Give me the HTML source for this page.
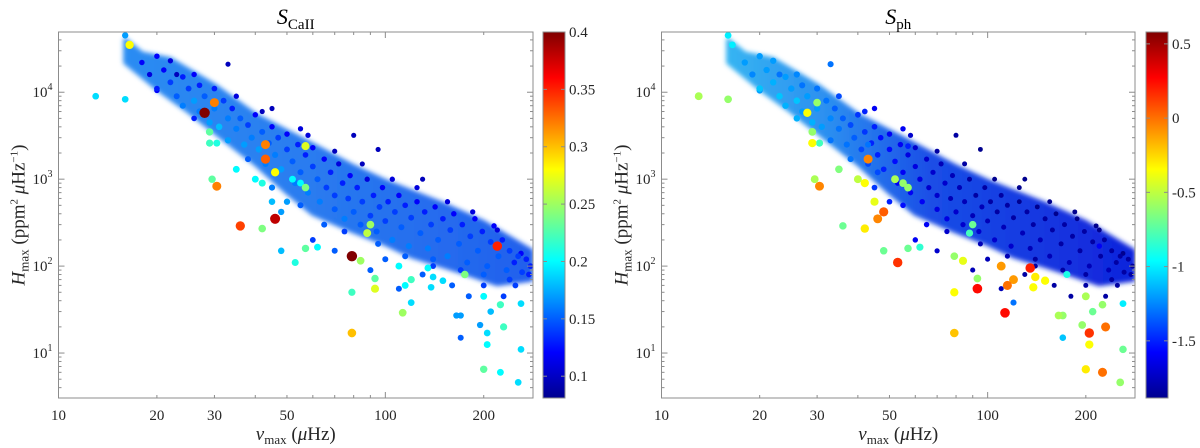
<!DOCTYPE html>
<html><head><meta charset="utf-8"><style>
html,body{margin:0;padding:0;background:#fff;}
svg{display:block;}
svg text{font-family:"Liberation Serif",serif;}
</style></head><body>
<svg id="fig" width="1200" height="448" viewBox="0 0 1200 448" xmlns="http://www.w3.org/2000/svg" font-family="Liberation Serif, serif">
<defs>
<linearGradient id="jet" x1="0" y1="1" x2="0" y2="0">
<stop offset="0" stop-color="#00008f"/><stop offset="0.125" stop-color="#0000ff"/><stop offset="0.375" stop-color="#00ffff"/><stop offset="0.625" stop-color="#ffff00"/><stop offset="0.875" stop-color="#ff0000"/><stop offset="1" stop-color="#800000"/>
</linearGradient>
<linearGradient id="cacloud" x1="0" y1="0" x2="1" y2="0">
<stop offset="0" stop-color="#2a8cf2"/><stop offset="0.4" stop-color="#2a7ef0"/><stop offset="1" stop-color="#2260ec"/>
</linearGradient>
<linearGradient id="phcloud" x1="0" y1="0" x2="1" y2="0">
<stop offset="0" stop-color="#36b4f2"/><stop offset="0.25" stop-color="#2c8ef0"/><stop offset="0.5" stop-color="#1a4ee6"/><stop offset="1" stop-color="#1024dc"/>
</linearGradient>
<filter id="soft" x="-5%" y="-5%" width="110%" height="110%"><feGaussianBlur stdDeviation="2.5"/></filter>
</defs>
</svg>
<script>
// ---- data (nu_max [uHz], H_max [ppm^2/uHz], S_CaII, S_ph) ----
const nuVals=[16.5,13,16,28,30,29,29,30.5,29.5,30.5,36,42,46,43,43,46,57,57,57,53,62,79,84,79,79,88,90,93,93,113,110,115,120,135,140,138,150,175,200,200,205,205,220,225,230,225,255,260,260,120,165,170,170,195,210,40,42,35,52,55,48,45,48,16,
18,19,20,20,21,22,22,23,24,24,25,26,26,27,27,28,29,30,30,31,32,33,33,34,35,36,37,38,39,40,41,42,43,44,45,46,47,48,50,50,52,53,54,55,57,58,60,60,62,63,65,66,68,70,70,72,74,75,77,78,80,82,84,85,88,90,92,94,96,98,100,102,105,107,110,112,115,118,120,125,128,132,135,138,142,145,150,155,158,162,168,172,178,182,188,192,198,205,210,215,222,228,235,240,248,255,262,270,278,55,80,33,60,70,100,130,160,180,200,110,140,250,230,90,
20,23,26,35,38,42,45,50,55,58,65,70,75,85,95,105,115,125,140,155,170,185,200,220,240,260,275,95,130,45];
const hVals=[35000,9000,8300,5800,7600,3500,2600,2600,1000,830,290,270,350,2500,1700,1200,2400,800,160,110,165,130,115,50,17,240,300,55,72,29,100,60,70,95,75,57,68,80,45,6.5,17,12.5,170,36,20,6,4.6,11,37,38,27,27,15,21,30,1000,900,1300,1000,900,150,550,420,45000,
22000,16000,26000,11000,18000,13000,23000,9000,15000,7000,11000,16000,8000,6000,12000,9000,4500,11000,6500,4000,8000,5000,2800,6500,3800,5000,2500,4200,3000,5500,2200,3500,1500,2600,4000,1900,3000,1300,2200,3300,1600,900,2500,1200,1900,700,1400,2300,1000,550,1700,800,1200,450,650,1500,900,350,600,1100,420,800,300,550,1000,380,650,250,480,800,330,550,200,420,650,280,500,170,360,550,240,420,160,300,480,200,350,130,260,400,180,300,110,220,350,150,250,100,190,290,130,200,90,150,110,130,85,120,100,3800,3200,21000,200,150,120,80,60,45,80,55,100,60,45,90,
10500,16000,5000,9000,1700,6000,800,550,500,3200,300,2100,250,1500,180,1000,130,800,120,550,90,420,60,260,70,140,80,2200,1000,6500];
const caVals=[0.28,0.19,0.19,0.4,0.32,0.23,0.22,0.21,0.23,0.32,0.34,0.24,0.38,0.32,0.33,0.28,0.27,0.24,0.23,0.21,0.2,0.4,0.25,0.22,0.3,0.26,0.25,0.27,0.23,0.25,0.2,0.2,0.22,0.2,0.19,0.19,0.19,0.24,0.2,0.23,0.19,0.2,0.35,0.22,0.22,0.2,0.19,0.19,0.19,0.19,0.17,0.17,0.15,0.17,0.18,0.2,0.21,0.2,0.2,0.2,0.18,0.18,0.17,0.17,
0.12,0.11,0.12,0.13,0.12,0.14,0.11,0.15,0.13,0.16,0.14,0.12,0.17,0.16,0.13,0.15,0.17,0.13,0.16,0.18,0.14,0.16,0.17,0.13,0.16,0.15,0.17,0.14,0.16,0.12,0.17,0.15,0.16,0.15,0.12,0.16,0.14,0.17,0.14,0.12,0.15,0.16,0.13,0.15,0.13,0.16,0.14,0.12,0.15,0.16,0.12,0.14,0.13,0.15,0.14,0.11,0.13,0.16,0.14,0.12,0.15,0.13,0.15,0.14,0.11,0.14,0.13,0.15,0.14,0.12,0.14,0.13,0.16,0.14,0.12,0.15,0.13,0.16,0.14,0.12,0.15,0.13,0.16,0.14,0.12,0.15,0.13,0.16,0.14,0.12,0.15,0.13,0.15,0.14,0.12,0.15,0.13,0.15,0.14,0.12,0.15,0.13,0.15,0.14,0.13,0.14,0.14,0.13,0.13,0.11,0.1,0.1,0.14,0.15,0.15,0.15,0.15,0.15,0.15,0.15,0.14,0.14,0.14,0.15,
0.12,0.1,0.13,0.11,0.15,0.1,0.16,0.17,0.15,0.11,0.15,0.1,0.14,0.1,0.15,0.11,0.15,0.11,0.15,0.11,0.14,0.11,0.14,0.11,0.14,0.12,0.13,0.1,0.1,0.1];
const phVals=[-1.0,-0.55,-0.6,-0.35,-0.6,-0.6,-0.35,-0.8,-0.55,-0.05,-0.7,-0.3,-0.05,-1.3,-0.05,-1.4,-1.5,-0.6,-0.7,0.15,-0.85,-0.6,-0.4,-0.35,-0.2,-0.8,-0.7,0.25,-0.6,0.25,-0.1,0.0,-0.1,0.2,-0.3,-0.35,-0.35,-0.9,-0.55,-0.3,0.15,-0.35,-1.6,-0.6,0.0,0.0,-0.6,-0.7,-1.0,-1.3,-0.55,-0.6,-1.1,-0.6,-0.7,-0.5,-0.35,-0.65,-0.55,-0.6,-0.7,-0.4,0.05,-1.0,
-1.2,-1.25,-1.2,-1.1,-1.2,-1.15,-1.2,-1.1,-1.2,-1.15,-1.2,-1.25,-1.1,-1.2,-1.3,-1.2,-1.15,-1.3,-1.2,-1.2,-1.3,-1.25,-1.3,-1.35,-1.3,-1.35,-1.3,-1.4,-1.35,-1.45,-1.4,-1.45,-1.4,-1.5,-1.5,-1.5,-1.55,-1.5,-1.55,-1.6,-1.55,-1.6,-1.6,-1.6,-1.65,-1.6,-1.65,-1.7,-1.65,-1.6,-1.7,-1.7,-1.7,-1.65,-1.7,-1.75,-1.7,-1.65,-1.75,-1.75,-1.7,-1.75,-1.7,-1.75,-1.8,-1.75,-1.8,-1.7,-1.75,-1.8,-1.75,-1.8,-1.7,-1.8,-1.8,-1.75,-1.8,-1.7,-1.8,-1.85,-1.75,-1.8,-1.75,-1.8,-1.85,-1.75,-1.8,-1.75,-1.8,-1.85,-1.8,-1.8,-1.75,-1.8,-1.85,-1.8,-1.8,-1.75,-1.8,-1.85,-1.8,-1.8,-1.75,-1.8,-1.8,-1.8,-1.8,-1.8,-1.8,-1.6,-1.8,-1.3,-1.6,-1.7,-1.75,-1.8,-1.8,-1.8,-1.8,-1.75,-1.8,-1.8,-1.8,-1.75,
-1.2,-1.3,-1.15,-1.4,-1.3,-1.5,-1.45,-1.5,-1.55,-1.7,-1.6,-1.8,-1.7,-1.8,-1.75,-1.85,-1.75,-1.85,-1.8,-1.85,-1.8,-1.85,-1.8,-1.85,-1.8,-1.85,-1.8,-1.85,-1.85,-1.6];
// density envelope of the dense cloud (data units)
const envNu=[16,18,22,30,40,60,80,100,150,200,280,280,220,180,150,120,100,80,60,50,40,30,25,20,16];
const envH=[40000,28000,24000,12000,5500,2500,1400,950,520,320,150,70,62,80,100,130,180,250,400,700,1500,3500,6000,11000,22000];
const xTicks=[10,20,30,50,100,200];
const yTicks=[10,100,1000,10000];
const caTicks=[0.1,0.15,0.2,0.25,0.3,0.35,0.4];
const phTicks=[0.5,0,-0.5,-1,-1.5];

const NS="http://www.w3.org/2000/svg";
const svg=document.getElementById('fig');
function el(tag,attrs,parent){const e=document.createElementNS(NS,tag);for(const k in attrs)e.setAttribute(k,attrs[k]);(parent||svg).appendChild(e);return e;}
function jet(t){t=Math.max(0,Math.min(1,t));const c=v=>Math.round(255*Math.max(0,Math.min(1,v)));
 const r=1.5-Math.abs(4*t-3),g=1.5-Math.abs(4*t-2),b=1.5-Math.abs(4*t-1);return `rgb(${c(r)},${c(g)},${c(b)})`;}
const FF='Liberation Serif, serif';

function panel(p){
 const {x0,x1,y0,y1,cbx,vals,vmin,vmax,ticks,sub,cloudFill,name}=p;
 const xlo=Math.log10(10),xhi=Math.log10(283),ylo=Math.log10(3.04),yhi=Math.log10(49300);
 const X=v=>x0+(Math.log10(v)-xlo)/(xhi-xlo)*(x1-x0);
 const Y=v=>y1-(Math.log10(v)-ylo)/(yhi-ylo)*(y1-y0);
 const g=el('g',{});
 
 
 const clipId='clip-'+name;
 const cp=el('clipPath',{id:clipId},g);el('rect',{x:x0,y:y0,width:x1-x0,height:y1-y0},cp);
 const plot=el('g',{'clip-path':`url(#${clipId})`},g);
 
 
 let d='';envNu.forEach((n,i)=>{d+=(i?'L':'M')+X(n).toFixed(1)+','+Y(envH[i]).toFixed(1);});d+='Z';
 const env=el('path',{d:d,fill:cloudFill,stroke:cloudFill,'stroke-width':4,'stroke-linejoin':'round',filter:'url(#soft)'},plot);
 
 
 const idx=nuVals.map((_,i)=>i).sort((a,b)=>vals[a]-vals[b]);
 idx.forEach(i=>{const t=(vals[i]-vmin)/(vmax-vmin);
  const c=el('circle',{cx:X(nuVals[i]).toFixed(1),cy:Y(hVals[i]).toFixed(1),r:(2.4+2.8*t).toFixed(2),fill:jet(t)},plot);
  
  });
 const box=el('rect',{x:x0,y:y0,width:x1-x0,height:y1-y0,fill:'none',stroke:'#8c8c8c','stroke-width':1},g);
 
 
 for(let dec=1;dec<=100;dec*=10)for(let m=1;m<10;m++){const v=dec*m;if(v<10||v>283)continue;const xx=X(v);const L=(m===1)?6:3;
  el('line',{x1:xx,y1:y1,x2:xx,y2:y1-L,stroke:'#8c8c8c'},g);el('line',{x1:xx,y1:y0,x2:xx,y2:y0+L,stroke:'#8c8c8c'},g);}
 for(let dec=1;dec<=10000;dec*=10)for(let m=1;m<10;m++){const v=dec*m;if(v<3.04||v>49300)continue;const yy=Y(v);const L=(m===1)?6:3;
  el('line',{x1:x0,y1:yy,x2:x0+L,y2:yy,stroke:'#8c8c8c'},g);el('line',{x1:x1,y1:yy,x2:x1-L,y2:yy,stroke:'#8c8c8c'},g);}
 xTicks.forEach(v=>{const t=el('text',{x:X(v),y:y1+22,'text-anchor':'middle','font-size':15,fill:'#262626','font-family':FF},g);t.textContent=v;
  
  });
 yTicks.forEach(v=>{const t=el('text',{x:x0-6,y:Y(v)+5,'text-anchor':'end','font-size':15,fill:'#262626','font-family':FF},g);
  t.innerHTML='10<tspan dy="-7" font-size="10">'+Math.round(Math.log10(v))+'</tspan>';
  
  });
 const xl=el('text',{x:(x0+x1)/2,y:440,'text-anchor':'middle','font-size':19,fill:'#262626','font-family':FF},g);
 xl.innerHTML='<tspan font-style="italic">ν</tspan><tspan font-size="13" dy="4">max</tspan><tspan dy="-4"> (</tspan><tspan font-style="italic">μ</tspan>Hz)';
 
 
 const yl=el('text',{x:0,y:0,'text-anchor':'middle','font-size':19,fill:'#262626','font-family':FF,transform:`translate(${x0-34},${(y0+y1)/2}) rotate(-90)`},g);
 yl.innerHTML='<tspan font-style="italic">H</tspan><tspan font-size="13" dy="4">max</tspan><tspan dy="-4"> (ppm</tspan><tspan font-size="11" dy="-7">2</tspan><tspan dy="7"> </tspan><tspan font-style="italic">μ</tspan>Hz<tspan font-size="11" dy="-7">−1</tspan><tspan dy="7">)</tspan>';
 
 
 const tt=el('text',{x:(x0+x1)/2,y:24,'text-anchor':'middle','font-size':22,fill:'#000','font-family':FF},g);
 tt.innerHTML='<tspan font-style="italic">S</tspan><tspan font-size="15" dy="5">'+sub+'</tspan>';
 
 
 const cb=el('rect',{x:cbx,y:y0,width:22,height:y1-y0,fill:'url(#jet)',stroke:'#8c8c8c'},g);
 
 
 const CY=v=>y1-(v-vmin)/(vmax-vmin)*(y1-y0);
 ticks.forEach(v=>{const yy=CY(v);el('line',{x1:cbx+22,y1:yy,x2:cbx+18,y2:yy,stroke:'#8c8c8c'},g);el('line',{x1:cbx,y1:yy,x2:cbx+4,y2:yy,stroke:'#8c8c8c'},g);
  const t=el('text',{x:cbx+26,y:yy+5,'font-size':15,fill:'#262626','font-family':FF},g);t.textContent=String(v);
  
  });
}
panel({x0:58.5,x1:533,y0:32,y1:398,cbx:543,vals:caVals,vmin:0.081,vmax:0.4,ticks:caTicks,sub:'CaII',cloudFill:'url(#cacloud)',name:'scaii'});
panel({x0:661.5,x1:1135,y0:32,y1:398,cbx:1146,vals:phVals,vmin:-1.885,vmax:0.58,ticks:phTicks,sub:'ph',cloudFill:'url(#phcloud)',name:'sph'});
</script>
</body></html>
